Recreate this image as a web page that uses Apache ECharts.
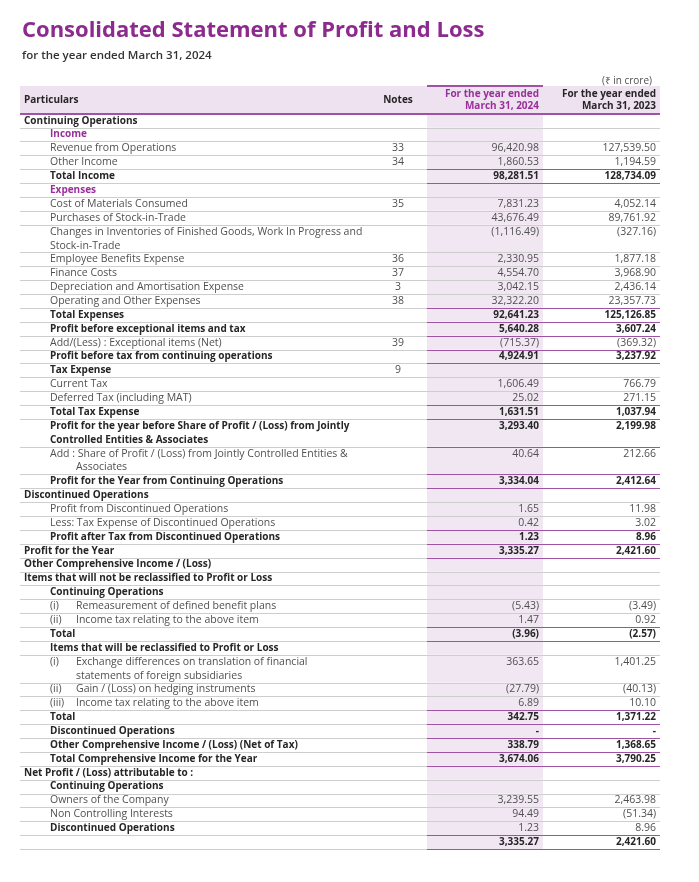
<!DOCTYPE html>
<html>
<head>
<meta charset="utf-8">
<script src="https://cdn.jsdelivr.net/npm/echarts@6/dist/echarts.min.js"></script>
<style>
html,body{margin:0;padding:0;background:#fff;}
#chart{width:699px;height:882px;}
</style>
</head>
<body>
<div id="chart"></div>
<script>
// ---------- DATA ----------
const titleText = 'Consolidated Statement of Profit and Loss';
const subtitleText = 'for the year ended March 31, 2024';
const unitText = '(₹ in crore)';
const headerLabels = ['Particulars', 'Notes', 'For the year ended\nMarch 31, 2024', 'For the year ended\nMarch 31, 2023'];

// Row labels ('\n' = wrapped second line, '\t' separates an item number from its text)
const labels = [
  'Continuing Operations',
  'Income',
  'Revenue from Operations',
  'Other Income',
  'Total Income',
  'Expenses',
  'Cost of Materials Consumed',
  'Purchases of Stock-in-Trade',
  'Changes in Inventories of Finished Goods, Work In Progress and\nStock-in-Trade',
  'Employee Benefits Expense',
  'Finance Costs',
  'Depreciation and Amortisation Expense',
  'Operating and Other Expenses',
  'Total Expenses',
  'Profit before exceptional items and tax',
  'Add/(Less) : Exceptional items (Net)',
  'Profit before tax from continuing operations',
  'Tax Expense',
  'Current Tax',
  'Deferred Tax (including MAT)',
  'Total Tax Expense',
  'Profit for the year before Share of Profit / (Loss) from Jointly\nControlled Entities & Associates',
  'Add : Share of Profit / (Loss) from Jointly Controlled Entities &\nAssociates',
  'Profit for the Year from Continuing Operations',
  'Discontinued Operations',
  'Profit from Discontinued Operations',
  'Less: Tax Expense of Discontinued Operations',
  'Profit after Tax from Discontinued Operations',
  'Profit for the Year',
  'Other Comprehensive Income / (Loss)',
  'Items that will not be reclassified to Profit or Loss',
  'Continuing Operations',
  '(i)\tRemeasurement of defined benefit plans',
  '(ii)\tIncome tax relating to the above item',
  'Total',
  'Items that will be reclassified to Profit or Loss',
  '(i)\tExchange differences on translation of financial\nstatements of foreign subsidiaries',
  '(ii)\tGain / (Loss) on hedging instruments',
  '(iii)\tIncome tax relating to the above item',
  'Total',
  'Discontinued Operations',
  'Other Comprehensive Income / (Loss) (Net of Tax)',
  'Total Comprehensive Income for the Year',
  'Net Profit / (Loss) attributable to :',
  'Continuing Operations',
  'Owners of the Company',
  'Non Controlling Interests',
  'Discontinued Operations',
  ''
];

// Row kind: S = section heading, G = group heading, H = sub heading,
// I = line item, A = line item with hanging wrap, T = total, T0 = top-level total
const kinds = [
  'S','G','I','I','T','G','I','I','I','I','I','I','I','T','T','I','T','H','I','I','T','T','A','T',
  'S','I','I','T','T0','S','S','H','I','I','T','H','I','I','I','T','T','T','T','S','H','I','I','H','T'
];

const notes = [
  '','','33','34','','','35','','','36','37','3','38','','','39','','9','','','','','','',
  '','','','','','','','','','','','','','','','','','','','','','','','',''
];

const fy2024 = [
  null,null,96420.98,1860.53,98281.51,null,7831.23,43676.49,-1116.49,2330.95,4554.70,3042.15,32322.20,
  92641.23,5640.28,-715.37,4924.91,null,1606.49,25.02,1631.51,3293.40,40.64,3334.04,
  null,1.65,0.42,1.23,3335.27,null,null,null,-5.43,1.47,-3.96,null,363.65,-27.79,6.89,342.75,
  0,338.79,3674.06,null,null,3239.55,94.49,1.23,3335.27
];

const fy2023 = [
  null,null,127539.50,1194.59,128734.09,null,4052.14,89761.92,-327.16,1877.18,3968.90,2436.14,23357.73,
  125126.85,3607.24,-369.32,3237.92,null,766.79,271.15,1037.94,2199.98,212.66,2412.64,
  null,11.98,3.02,8.96,2421.60,null,null,null,-3.49,0.92,-2.57,null,1401.25,-40.13,10.10,1371.22,
  0,1368.65,3790.25,null,null,2463.98,-51.34,8.96,2421.60
];

// ---------- LAYOUT / STYLE ----------
const FONT = '"Open Sans", "Noto Sans", sans-serif';
const C = {
  title: '#8c2a8e',
  purpleText: '#9a2f9c',
  purpleLine: '#a052a4',
  headerBg: '#efe2f0',
  colBg: '#f1e7f3',
  grey: '#cecece',
  text: '#505050',
  bold: '#262626'
};
const FS = 10.5;
// x positions in table units (0..640)
const X = { l0: 4, l1: 30, l2: 56, notes: 378, c24a: 407, c24b: 523, v24: 519, v23: 636, end: 640 };
const HEADER_UNITS = 2;

function fmt(v) {
  if (v === null || v === undefined) return '';
  if (v === 0) return '-';
  const s = Math.abs(v).toLocaleString('en-US', { minimumFractionDigits: 2, maximumFractionDigits: 2 });
  return v < 0 ? '(' + s + ')' : s;
}

// row positions (in row units) derived from wrapped line counts
const starts = [];
const spans = [];
let acc = HEADER_UNITS;
labels.forEach(function (l) {
  const n = l.split('\n').length;
  starts.push(acc); spans.push(n); acc += n;
});
const totalUnits = acc;

const data = [[0, 0]].concat(labels.map(function (l, i) { return [0, starts[i]]; }));

function crisp(y) { return Math.round(y) + 0.5; }

function txt(x, y, s, opt) {
  return {
    type: 'text', z2: 10,
    style: Object.assign({
      x: x, y: y, text: s, fontFamily: FONT, fontSize: FS, fill: C.text,
      align: 'left', verticalAlign: 'middle'
    }, opt || {})
  };
}
function hline(x1, x2, y, color, w) {
  return { type: 'line', z2: 5, shape: { x1: x1, y1: y, x2: x2, y2: y }, style: { stroke: color, lineWidth: w || 1 } };
}

function renderItem(params, api) {
  const i = params.dataIndex;
  const px = function (u) { return api.coord([u, 0])[0]; };
  const py = function (u) { return api.coord([0, u])[1]; };
  const ch = [];
  if (i === 0) {
    const y0 = py(0), y1 = py(HEADER_UNITS), ym = (y0 + y1) / 2;
    ch.push({ type: 'rect', z2: 0, shape: { x: px(0), y: y0, width: px(X.end) - px(0), height: y1 - y0 }, style: { fill: C.headerBg } });
    ch.push(hline(px(X.c24a), px(X.c24b), Math.round(y0), C.purpleLine, 2));
    ch.push(hline(px(0), px(X.end), Math.round(y1), C.purpleLine, 2));
    const hs = { fontWeight: 700, fill: C.bold, fontSize: 10 };
    ch.push(txt(px(X.l0), ym, headerLabels[0], hs));
    ch.push(txt(px(X.notes), ym, headerLabels[1], Object.assign({}, hs, { align: 'center' })));
    ch.push(txt(px(X.v24), ym, headerLabels[2], Object.assign({}, hs, { fill: C.purpleText, align: 'right', lineHeight: 12 })));
    ch.push(txt(px(X.v23), ym, headerLabels[3], Object.assign({}, hs, { align: 'right', lineHeight: 12 })));
    return { type: 'group', children: ch };
  }
  const r = i - 1;
  const k = kinds[r];
  const s = starts[r], n = spans[r];
  const y0 = py(s), y1 = py(s + n);
  const lineY = function (j) { return (py(s + j) + py(s + j + 1)) / 2; };
  // highlighted current-year column
  ch.push({ type: 'rect', z2: 0, shape: { x: px(X.c24a), y: y0, width: px(X.c24b) - px(X.c24a), height: y1 - y0 }, style: { fill: C.colBg } });
  // row separator
  ch.push(hline(px(0), px(X.end), crisp(y1), C.grey));
  const hasVal = fy2024[r] !== null || fy2023[r] !== null;
  const isTotal = (k === 'T' || k === 'T0') && hasVal;
  if (isTotal) {
    ch.push(hline(px(X.c24a), px(X.end), crisp(y0), C.purpleLine));
    ch.push(hline(px(X.c24a), px(X.end), crisp(y1), C.purpleLine));
  }
  const bold = k !== 'I' && k !== 'A';
  const level = (k === 'S' || k === 'T0') ? X.l0 : X.l1;
  const lstyle = bold
    ? { fontWeight: 700, fontSize: 10, fill: k === 'G' ? C.purpleText : C.bold }
    : { fontWeight: 400, fill: C.text };
  const lines = labels[r].split('\n');
  lines.forEach(function (ln, j) {
    const y = lineY(j);
    if (ln.indexOf('\t') >= 0) {
      const parts = ln.split('\t');
      ch.push(txt(px(X.l1), y, parts[0], lstyle));
      ch.push(txt(px(X.l2), y, parts[1], lstyle));
    } else {
      let x = px(level);
      if (j > 0 && (k === 'A' || labels[r].indexOf('\t') >= 0)) x = px(X.l2);
      ch.push(txt(x, y, ln, lstyle));
    }
  });
  const vy = lineY(0);
  if (notes[r]) ch.push(txt(px(X.notes), vy, notes[r], { align: 'center' }));
  const vstyle = isTotal ? { fontWeight: 700, fill: C.bold, fontSize: 10 } : { fill: C.text };
  ch.push(txt(px(X.v24), vy, fmt(fy2024[r]), Object.assign({ align: 'right' }, vstyle)));
  ch.push(txt(px(X.v23), vy, fmt(fy2023[r]), Object.assign({ align: 'right' }, vstyle)));
  return { type: 'group', children: ch };
}

const chart = echarts.init(document.getElementById('chart'), null, { renderer: 'canvas' });
chart.setOption({
  animation: false,
  backgroundColor: '#ffffff',
  title: [
    {
      text: titleText, subtext: subtitleText, left: 17, top: 15, itemGap: 8,
      textStyle: { fontFamily: FONT, fontWeight: 700, fontSize: 22, color: C.title },
      subtextStyle: { fontFamily: FONT, fontWeight: 600, fontSize: 11.5, color: '#333333' }
    },
    {
      text: unitText, right: 42, top: 71,
      textStyle: { fontFamily: FONT, fontWeight: 400, fontSize: 10, color: '#505050' }
    }
  ],
  grid: { left: 20, right: 39, top: 86, bottom: 33, containLabel: false },
  xAxis: { type: 'value', min: 0, max: X.end, show: false },
  yAxis: { type: 'value', min: 0, max: totalUnits, inverse: true, show: false },
  series: [{
    type: 'custom',
    renderItem: renderItem,
    clip: false,
    encode: { x: 0, y: 1 },
    data: data
  }]
});
</script>
</body>
</html>
